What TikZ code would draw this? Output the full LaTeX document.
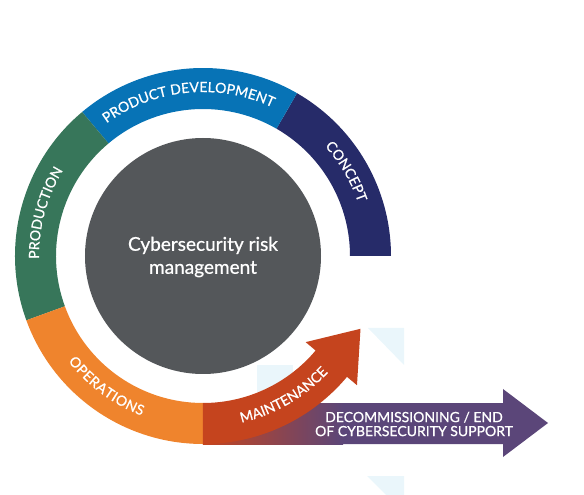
\documentclass[tikz,border=0pt]{standalone}
\usepackage{fontspec}
\setmainfont{Lato}[FakeBold=0.8]
\usetikzlibrary{decorations.text, positioning}

\definecolor{conceptnavy}{HTML}{262B69}
\definecolor{devblue}{HTML}{0773B6}
\definecolor{prodgreen}{HTML}{37765A}
\definecolor{opsorange}{HTML}{EF842D}
\definecolor{maintred}{HTML}{C5441E}
\definecolor{decompurple}{HTML}{5B4679}
\definecolor{riskgray}{HTML}{54575A}
\definecolor{paleblue}{HTML}{EAF6FB}

\newcommand{\ringfont}{\fontsize{14}{14}\selectfont}

\tikzset{
  ringlabel/.style={decorate, decoration={text along path, text={|\ringfont|#1},
      text color=white, text align={fit to path}}},
}

\begin{document}
\begin{tikzpicture}[x=1pt, y=1pt, every node/.style={text=white}]
  \useasboundingbox (-203,-239) rectangle (381,256);

  % Pale background tiles
  \fill[paleblue] (165,-72) -- (201,-72) -- (201,-109) -- cycle;
  \fill[paleblue] (54,-109) rectangle (90,-145);
  \fill[paleblue] (164,-220) -- (201,-220) -- (201,-257) -- cycle;

  % Decommissioning arrow
  \fill[decompurple] (0,-147) -- (300,-147) -- (300,-133) -- (345,-167)
    -- (300,-201) -- (300,-188) -- (0,-188) -- cycle;
  \shade[left color=maintred, right color=decompurple] (0,-188) rectangle (140,-147);

  % Ring segments
  \foreach \a/\b/\c in {0/60/conceptnavy, 60/130/devblue, 130/200/prodgreen, 200/270/opsorange} {
    \fill[\c] (\a:188) arc[start angle=\a, end angle=\b, radius=188]
      -- (\b:147) arc[start angle=\b, end angle=\a, radius=147] -- cycle;
  }

  % Maintenance arrow
  \fill[maintred] (270:188) arc[start angle=270, end angle=320, radius=188]
    -- (320:201) -- (157.5,-72.8) -- (320:134) -- (320:147)
    arc[start angle=320, end angle=270, radius=147] -- cycle;

  % Centre
  \fill[riskgray] (0,0) circle[radius=118];
  \node[align=center, font=\fontsize{19}{23}\selectfont] (riskmgmt) at (0,-1)
    {Cybersecurity risk\\management};

  % Ring labels
  \path[ringlabel={PRODUCT DEVELOPMENT}] (126:164) arc[start angle=126, end angle=65, radius=164];
  \path[ringlabel={CONCEPT}] (42:164) arc[start angle=42, end angle=19, radius=164];
  \path[ringlabel={PRODUCTION}] (181:164) arc[start angle=181, end angle=148.5, radius=164];
  \path[ringlabel={OPERATIONS}] (218:171) arc[start angle=218, end angle=249, radius=171];
  \path[ringlabel={MAINTENANCE}] (283:171) arc[start angle=283, end angle=317, radius=171];

  \node[align=center, font=\fontsize{14}{14}\selectfont] (decomtext) at (211,-168)
    {DECOMMISSIONING / END\\OF CYBERSECURITY SUPPORT};
\end{tikzpicture}
\end{document}
